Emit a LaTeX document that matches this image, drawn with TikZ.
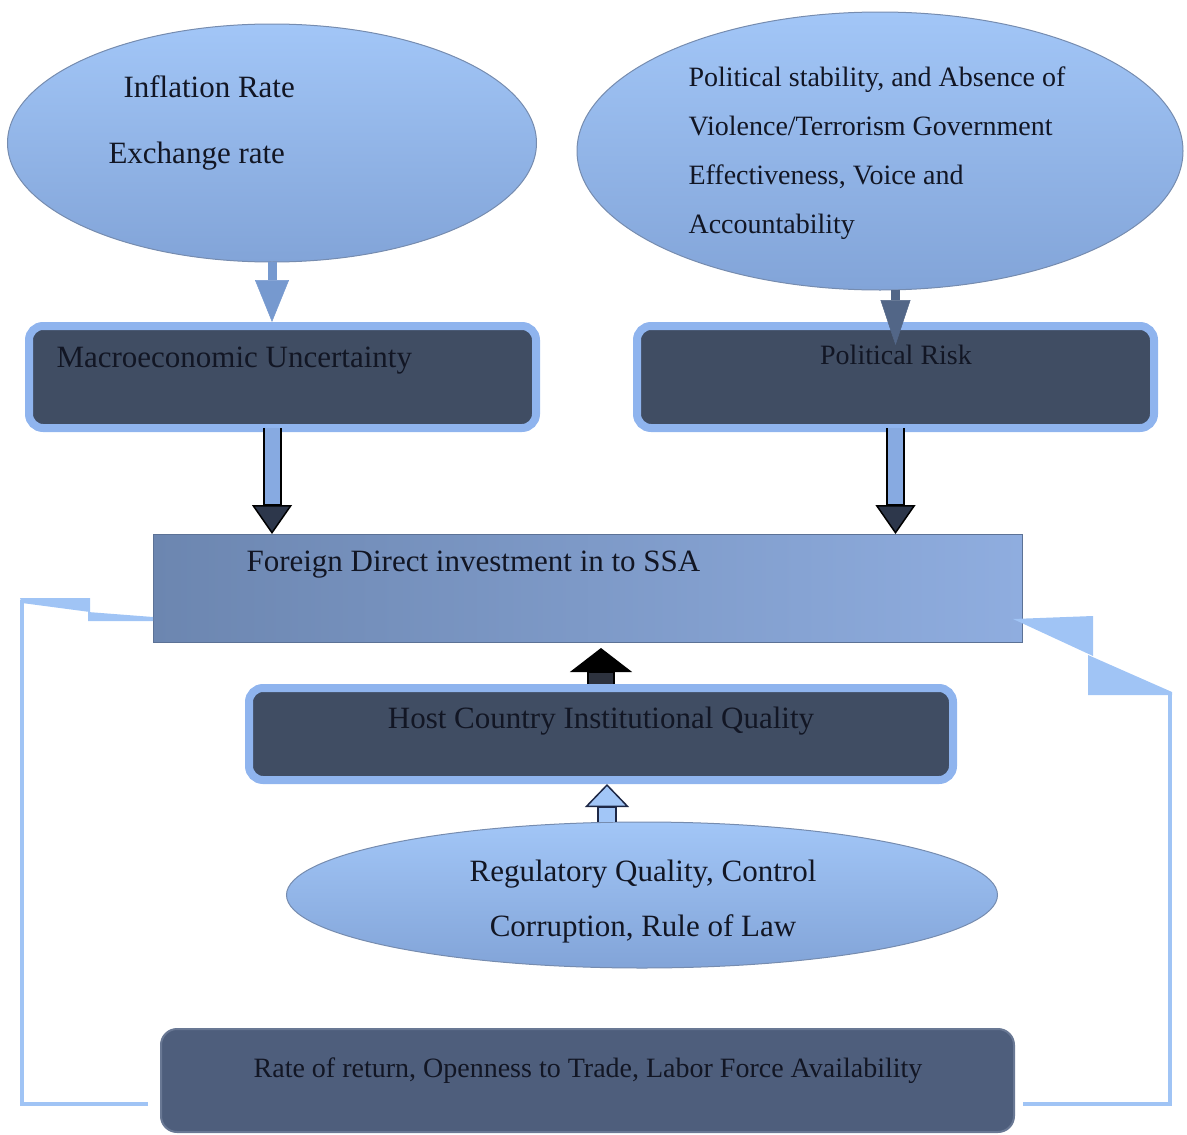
\documentclass[tikz,border=0pt]{standalone}
\usepackage{fontspec}
\setmainfont{Liberation Serif}
\usetikzlibrary{arrows,arrows.meta,positioning,calc,shapes.geometric}

\definecolor{ellTop}{RGB}{162,198,247}
\definecolor{ellBot}{RGB}{130,164,216}
\definecolor{ellLine}{RGB}{118,140,175}
\definecolor{boxDark}{RGB}{64,77,99}
\definecolor{boxGlow}{RGB}{143,180,238}
\definecolor{retFill}{RGB}{78,94,124}
\definecolor{retLine}{RGB}{105,120,148}
\definecolor{fdiLeft}{RGB}{108,134,176}
\definecolor{fdiRight}{RGB}{143,173,223}
\definecolor{txtDark}{RGB}{18,22,36}
\definecolor{fbBlue}{RGB}{160,196,245}
\definecolor{arrLight}{RGB}{118,153,207}
\definecolor{arrMid}{RGB}{82,102,135}
\definecolor{shaftBlue}{RGB}{135,170,225}
\definecolor{headDark}{RGB}{45,55,75}
\definecolor{upShaft}{RGB}{45,50,62}
\definecolor{arrNavy}{RGB}{30,40,70}

\begin{document}
\begin{tikzpicture}[x=1pt,y=-1pt]
        \tikzstyle{every node}=[font=\fontsize{31}{37}\selectfont, text=txtDark]
        \tikzstyle{small28}=[font=\fontsize{28}{34}\selectfont]
        \tikzstyle{bubble}=[ellipse, draw=ellLine, line width=1pt, top color=ellTop, bottom color=ellBot, inner sep=0pt, outer sep=0pt]
        \tikzstyle{darkbox}=[rectangle, rounded corners=14pt, draw=boxGlow, line width=8pt, fill=boxDark, inner sep=0pt, outer sep=0pt]
        \tikzstyle{fdibox}=[rectangle, left color=fdiLeft, right color=fdiRight, draw=fdiLeft!85!black, line width=0.6pt, inner sep=0pt, outer sep=0pt]
        \tikzstyle{retbox}=[rectangle, rounded corners=16pt, fill=retFill, draw=retLine, line width=2pt, inner sep=0pt, outer sep=0pt]
        \tikzstyle{thinarrow}=[line width=9pt]
        \tikzstyle{fatdown}=[draw=black, line width=19pt, -{Triangle[length=29pt,width=40pt,line width=1.5pt,fill=headDark]}, postaction={draw=shaftBlue, line width=15pt, -, shorten >=30pt}]
        \tikzstyle{fatup}=[draw=black, line width=28pt, shorten <=4pt, -{Triangle[length=24pt,width=62pt,line width=1.5pt,fill=black]}, postaction={draw=upShaft, line width=24pt, -, shorten <=4pt, shorten >=25pt}]
        \tikzstyle{lightup}=[draw=arrNavy, line width=20pt, -{Triangle[length=23pt,width=44pt,line width=1.5pt,fill=ellTop]}, postaction={draw=ellTop, line width=16pt, -, shorten >=24pt}]
        \tikzstyle{fbline}=[draw=fbBlue, line width=4pt]

        \useasboundingbox (0,0) rectangle (1187,1135);

        %%% Top
        \node[bubble, minimum width=529pt, minimum height=238pt] (macroell) at (272,143) {};
        \node[bubble, minimum width=606pt, minimum height=278pt] (polell) at (880,151) {};
        \node[anchor=base west] (inflation) at (120,97) {Inflation Rate};
        \node[anchor=base west] (exchange) at (105,163) {Exchange rate};
        \node[small28, anchor=base west] (polline1) at (685,86) {Political stability, and Absence of};
        \node[small28, anchor=base west] (polline2) at (685,135) {Violence/Terrorism Government};
        \node[small28, anchor=base west] (polline3) at (685,184) {Effectiveness, Voice and};
        \node[small28, anchor=base west] (polline4) at (685,233) {Accountability};

        \node[darkbox, minimum width=507pt, minimum height=102pt] (macro) at (282.5,377) {};
        \node[darkbox, minimum width=517pt, minimum height=102pt] (pol) at (895.5,377) {};
        \node[anchor=base west] (macrotxt) at (53,367) {Macroeconomic Uncertainty};
        \node[small28, anchor=base] (poltxt) at (896,364) {Political Risk};

        %%% Middle
        \node[fdibox, minimum width=869pt, minimum height=108pt] (fdi) at (587.5,588) {};
        \node[anchor=base west] (fditxt) at (243,571) {Foreign Direct investment in to SSA};
        \node[darkbox, minimum width=704pt, minimum height=92pt] (host) at (601,734) {};
        \node[anchor=base] (hosttxt) at (601,728) {Host Country Institutional Quality};

        %%% Bottom
        \node[bubble, minimum width=711pt, minimum height=146pt] (instell) at (642,895) {};
        \node[anchor=base] (insttxt1) at (643,881) {Regulatory Quality, Control};
        \node[anchor=base] (insttxt2) at (643,936) {Corruption, Rule of Law};
        \node[retbox, minimum width=853pt, minimum height=103pt] (ret) at (587.5,1080.5) {};
        \node[small28, anchor=base] (rettxt) at (588,1077) {Rate of return, Openness to Trade, Labor Force Availability};

        %%% Arrows
        \draw[thinarrow, draw=arrLight, -{Triangle[length=42pt,width=34pt,line width=0.5pt]}] (macroell.south) -- ($(macroell.south |- macro.north)+(0,-4)$);
        \draw[thinarrow, draw=arrMid, -{Triangle[length=45pt,width=30pt,line width=0.5pt]}] (polell.south -| pol.north) -- ($(pol.north)+(0,19)$);
        \draw[fatdown] (macro.south -| macroell.south) -- (fdi.north -| macroell.south);
        \draw[fatdown] (pol.south) -- (fdi.north -| pol.south);
        \draw[fatup] (host.north) -- ($(fdi.south -| host.north)+(0,6)$);
        \coordinate (hostin) at ($(host.south)+(6,4)$);
        \draw[lightup] (instell.north -| hostin) -- (hostin);

        %%% Feedback
        \coordinate (lfb) at (22,600);
        \coordinate (rfb) at (1170,693);
        \draw[fbline] ($(ret.south west)+(-13,-28)$) -| (lfb);
        \fill[fbBlue] (20,598) -- (90,598) -- (90,612) -- (22,603) -- cycle;
        \fill[fbBlue] (88,612) -- ($(fdi.south west)+(0,-25)$) -- ($(fdi.south west)+(0,-21)$) -- (88,621) -- cycle;
        \draw[fbline] ($(ret.south east)+(9,-28)$) -| (rfb);
        \fill[fbBlue] ($(fdi.east)+(-9,31)$) -- (1093,616) -- (1093,656) -- cycle;
        \fill[fbBlue] (1088,655) -- (1172,692) -- (1172,695) -- (1088,695) -- cycle;
\end{tikzpicture}
\end{document}
